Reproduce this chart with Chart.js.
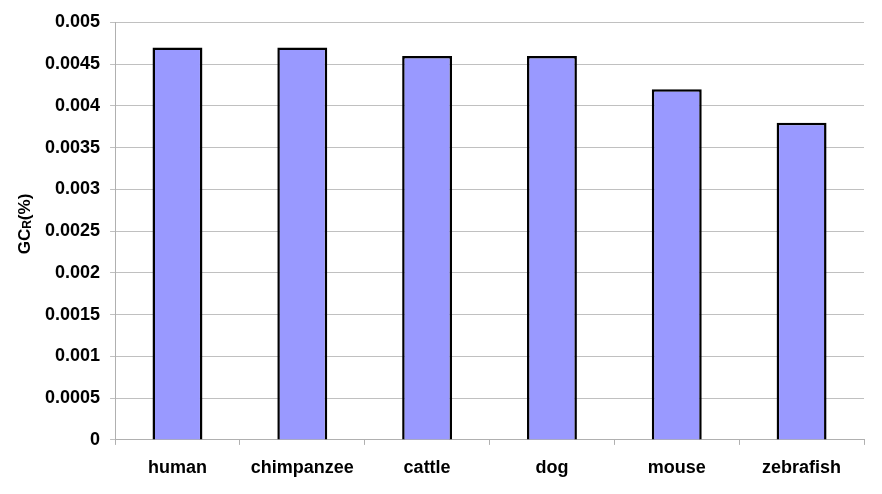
<!DOCTYPE html>
<html>
<head>
<meta charset="utf-8">
<script src="https://cdn.jsdelivr.net/npm/chart.js@4"></script>
<style>
  html, body { margin: 0; padding: 0; background: #fff; }
  #wrap { width: 882px; height: 494px; }
</style>
</head>
<body>
<div id="wrap"><canvas id="chart" width="882" height="494"></canvas></div>
<script>
const species = ['human', 'chimpanzee', 'cattle', 'dog', 'mouse', 'zebrafish'];
const gcValues = [0.0047, 0.0047, 0.0046, 0.0046, 0.0042, 0.0038];
const yTicks = [0, 0.0005, 0.001, 0.0015, 0.002, 0.0025, 0.003, 0.0035, 0.004, 0.0045, 0.005];

const FONT = "'Liberation Sans', Arial, sans-serif";

// draws the rotated "GC_R(%)" title with a subscript R
const yTitlePlugin = {
  id: 'yTitle',
  afterDraw(chart) {
    const ctx = chart.ctx;
    const big = 'bold 17px ' + FONT;
    const small = 'bold 12px ' + FONT;
    ctx.save();
    ctx.font = big;
    const w1 = ctx.measureText('GC').width;
    const w3 = ctx.measureText('(%)').width;
    ctx.font = small;
    const w2 = ctx.measureText('R').width;
    const total = w1 + w2 + w3;
    ctx.translate(30, 224);
    ctx.rotate(-Math.PI / 2);
    ctx.fillStyle = '#000';
    ctx.textBaseline = 'alphabetic';
    ctx.textAlign = 'left';
    let x = -total / 2;
    ctx.font = big;
    ctx.fillText('GC', x, 0);
    x += w1;
    ctx.font = small;
    ctx.fillText('R', x, 1);
    x += w2;
    ctx.font = big;
    ctx.fillText('(%)', x, 0);
    ctx.restore();
  }
};

new Chart(document.getElementById('chart'), {
  type: 'bar',
  data: {
    labels: species,
    datasets: [{
      data: gcValues,
      backgroundColor: '#9999ff',
      borderColor: '#000',
      borderWidth: 2.5,
      barPercentage: 0.4,
      categoryPercentage: 1.0
    }]
  },
  options: {
    responsive: false,
    animation: false,
    layout: { padding: { left: 35, right: 18, top: 22.5, bottom: 2.5 } },
    plugins: { legend: { display: false }, tooltip: { enabled: false } },
    scales: {
      x: {
        grid: { drawOnChartArea: false, drawTicks: true, tickLength: 5, color: '#b0b0b0', offset: true },
        border: { color: '#b0b0b0' },
        ticks: { color: '#000', font: { family: FONT, size: 18, weight: 'bold' }, padding: 12.5 }
      },
      y: {
        min: 0,
        max: 0.005,
        afterBuildTicks(axis) { axis.ticks = yTicks.map(v => ({ value: v })); },
        grid: { color: '#c0c0c0', tickLength: 5 },
        border: { color: '#b0b0b0' },
        ticks: {
          color: '#000',
          font: { family: FONT, size: 18, weight: 'bold' },
          padding: 10,
          callback: v => String(v)
        }
      }
    }
  },
  plugins: [yTitlePlugin]
});
</script>
</body>
</html>
